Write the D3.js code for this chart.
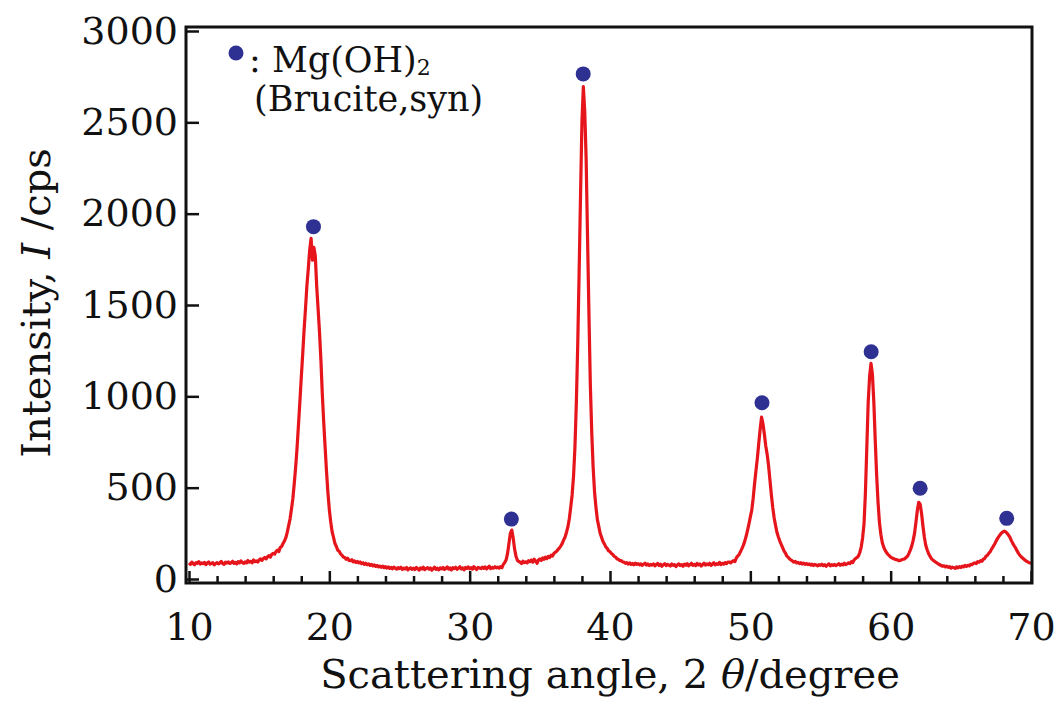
<!DOCTYPE html>
<html>
<head>
<meta charset="utf-8">
<script src="https://cdn.jsdelivr.net/npm/d3@7"></script>
<style>
  html, body { margin: 0; padding: 0; background: #fff; }
  svg { display: block; }
  .tick text { font-family: "DejaVu Serif", serif; font-size: 38px; fill: #111; }
  .tick line { stroke: #111; stroke-width: 2.5; }
  .title { font-family: "DejaVu Serif", serif; font-size: 40px; fill: #111; }
  .legend { font-family: "DejaVu Serif", serif; font-size: 35px; fill: #111; }
</style>
</head>
<body>
<svg id="chart" width="1059" height="702"></svg>
<script>
// XRD pattern, 2θ = 10.0 … 70.0 °, step 0.1 °
const angleStart = 10;
const angleStep = 0.1;
const intensity = [
  88, 80, 92, 84, 78, 90, 86, 95, 82, 88,
  84, 91, 79, 87, 93, 81, 86, 89, 77, 85,
  90, 83, 88, 96, 84, 80, 92, 87, 94, 85,
  89, 97, 86, 91, 83, 95, 88, 99, 90, 86,
  94, 88, 101, 92, 97, 89, 104, 95, 99, 93,
  105, 110, 102, 112, 118, 110, 122, 128, 120, 135,
  140, 136, 150, 158, 150, 172, 178, 194, 208, 226,
  255, 292, 328, 382, 440, 522, 612, 718, 842, 970,
  1102, 1228, 1362, 1478, 1604, 1698, 1802, 1865, 1745, 1815,
  1770, 1602, 1478, 1352, 1198, 1012, 858, 722, 588, 472,
  380, 312, 258, 228, 194, 178, 158, 152, 138, 130,
  120, 118, 108, 114, 102, 100, 106, 94, 99, 90,
  96, 88, 93, 84, 89, 80, 86, 78, 83, 75,
  80, 72, 77, 69, 74, 66, 71, 64, 70, 62,
  68, 60, 66, 58, 63, 56, 65, 59, 54, 62,
  57, 64, 52, 60, 55, 63, 50, 58, 61, 53,
  59, 52, 63, 56, 49, 61, 55, 64, 51, 58,
  62, 54, 60, 48, 57, 65, 53, 59, 50, 61,
  55, 63, 52, 58, 66, 54, 60, 49, 62, 57,
  64, 53, 59, 67, 55, 61, 50, 63, 58, 66,
  56, 62, 54, 68, 59, 52, 64, 60, 57, 65,
  58, 66, 55, 62, 70, 57, 63, 59, 67, 61,
  65, 60, 68, 62, 80, 90, 105, 140, 195, 250,
  268, 225, 165, 125, 102, 96, 92, 85, 98, 90,
  94, 88, 100, 95, 104, 92, 108, 99, 86, 104,
  110, 102, 115, 108, 120, 112, 124, 118, 130, 126,
  140, 146, 152, 162, 170, 182, 195, 214, 230, 256,
  285, 330, 392, 460, 560, 720, 960, 1280, 1680, 2100,
  2500, 2695, 2560, 2300, 1870, 1450, 1060, 800, 610, 475,
  392, 325, 288, 250, 228, 205, 192, 176, 168, 154,
  150, 140, 134, 124, 120, 110, 108, 100, 101, 93,
  92, 86, 90, 82, 88, 80, 85, 78, 86, 80,
  84, 77, 83, 75, 81, 86, 76, 82, 74, 80,
  76, 83, 72, 79, 85, 74, 81, 70, 78, 84,
  73, 80, 76, 71, 82, 75, 79, 68, 77, 83,
  74, 79, 70, 81, 76, 84, 72, 78, 86, 75,
  80, 73, 85, 77, 82, 71, 79, 87, 76, 83,
  78, 86, 74, 82, 89, 77, 84, 80, 91, 79,
  86, 82, 90, 84, 93, 92, 88, 96, 100, 95,
  115, 126, 134, 150, 166, 184, 206, 234, 266, 300,
  340, 376, 440, 520, 592, 660, 742, 820, 886, 850,
  792, 728, 682, 620, 540, 460, 390, 334, 292, 254,
  230, 208, 190, 172, 154, 142, 126, 118, 110, 104,
  98, 92, 96, 88, 91, 84, 89, 82, 87, 80,
  85, 79, 83, 76, 81, 74, 80, 77, 72, 79,
  75, 81, 73, 78, 70, 77, 83, 72, 79, 74,
  80, 73, 78, 84, 75, 81, 77, 86, 79, 83,
  88, 84, 95, 90, 105, 112, 118, 125, 145, 175,
  225, 300, 470, 720, 970, 1110, 1180, 1120, 970, 760,
  570, 420, 310, 245, 200, 175, 158, 145, 135, 128,
  120, 115, 112, 108, 106, 104, 100, 102, 106, 108,
  110, 118, 125, 140, 158, 180, 210, 250, 310, 375,
  420, 410, 360, 290, 230, 185, 160, 140, 125, 112,
  104, 98, 92, 88, 82, 78, 74, 70, 72, 66,
  70, 64, 68, 60, 65, 62, 58, 66, 61, 68,
  63, 70, 66, 74, 69, 75, 72, 80, 78, 86,
  88, 84, 95, 92, 100, 97, 108, 112, 125, 130,
  142, 150, 165, 177, 190, 205, 220, 232, 242, 252,
  258, 262, 258, 250, 240, 228, 210, 195, 182, 170,
  155, 142, 130, 122, 115, 108, 102, 96, 92, 88,
  86
];

// Mg(OH)2 peak markers
const markerAngles = [18.87, 32.97, 38.09, 50.83, 58.61, 62.1, 68.27];
const markerHeights = [1929, 328, 2765, 965, 1244, 497, 332];

const xMajorTicks = [10, 20, 30, 40, 50, 60, 70];
const xMinorTicks = [12, 14, 16, 18, 22, 24, 26, 28, 32, 34, 36, 38, 42, 44, 46, 48, 52, 54, 56, 58, 62, 64, 66, 68];
const yTicks = [0, 500, 1000, 1500, 2000, 2500, 3000];

const svg = d3.select("#chart");
const box = { left: 186, right: 1032, top: 27, bottom: 583 };

const x = d3.scaleLinear().domain([10, 70]).range([189, 1031]);
const y = d3.scaleLinear().domain([0, 3000]).range([579, 31]);

const pattern = intensity.map((v, i) => [angleStart + i * angleStep, v]);

// data line
svg.append("path")
  .datum(pattern)
  .attr("fill", "none")
  .attr("stroke", "#e6141b")
  .attr("stroke-width", 3.2)
  .attr("stroke-linejoin", "round")
  .attr("d", d3.line().x((d) => x(d[0])).y((d) => y(d[1])));

// peak markers
svg.append("g")
  .selectAll("circle")
  .data(markerAngles)
  .join("circle")
  .attr("cx", (d) => x(d))
  .attr("cy", (d, i) => y(markerHeights[i]))
  .attr("r", 7.5)
  .attr("fill", "#2e3192");

// axes (ticks point inward)
const xAxis = svg.append("g")
  .attr("transform", `translate(0,${box.bottom})`)
  .call(d3.axisBottom(x).tickValues(xMajorTicks).tickSize(-12).tickPadding(30).tickFormat(d3.format("d")));
xAxis.select(".domain").remove();
xAxis.selectAll("text").attr("dy", "0.71em");

const xMinor = svg.append("g")
  .attr("transform", `translate(0,${box.bottom})`)
  .call(d3.axisBottom(x).tickValues(xMinorTicks).tickSize(-7).tickFormat(""));
xMinor.select(".domain").remove();

const yAxis = svg.append("g")
  .attr("transform", `translate(${box.left},0)`)
  .call(d3.axisLeft(y).tickValues(yTicks).tickSize(-13).tickPadding(10).tickFormat(d3.format("d")));
yAxis.select(".domain").remove();
yAxis.selectAll(".tick text").attr("x", -8);

// frame
svg.append("rect")
  .attr("x", box.left)
  .attr("y", box.top)
  .attr("width", box.right - box.left)
  .attr("height", box.bottom - box.top)
  .attr("fill", "none")
  .attr("stroke", "#111")
  .attr("stroke-width", 3);

// axis titles
const xTitle = svg.append("text")
  .attr("class", "title")
  .attr("x", 610)
  .attr("y", 688)
  .attr("text-anchor", "middle");
xTitle.append("tspan").text("Scattering angle, 2 ");
xTitle.append("tspan").attr("font-style", "italic").text("θ");
xTitle.append("tspan").text("/degree");

const yTitle = svg.append("text")
  .attr("class", "title")
  .attr("transform", "translate(50,303) rotate(-90)")
  .attr("text-anchor", "middle");
yTitle.append("tspan").text("Intensity, ");
yTitle.append("tspan").attr("font-style", "italic").text("I");
yTitle.append("tspan").text(" /cps");

// legend
svg.append("circle")
  .attr("cx", 236)
  .attr("cy", 53)
  .attr("r", 7.5)
  .attr("fill", "#2e3192");

const legend1 = svg.append("text")
  .attr("class", "legend")
  .attr("x", 249)
  .attr("y", 72);
legend1.append("tspan").text(": Mg(OH)");
legend1.append("tspan").attr("font-size", 22).attr("dy", 3).text("2");

svg.append("text")
  .attr("class", "legend")
  .attr("x", 254)
  .attr("y", 111)
  .text("(Brucite,syn)");
</script>
</body>
</html>
